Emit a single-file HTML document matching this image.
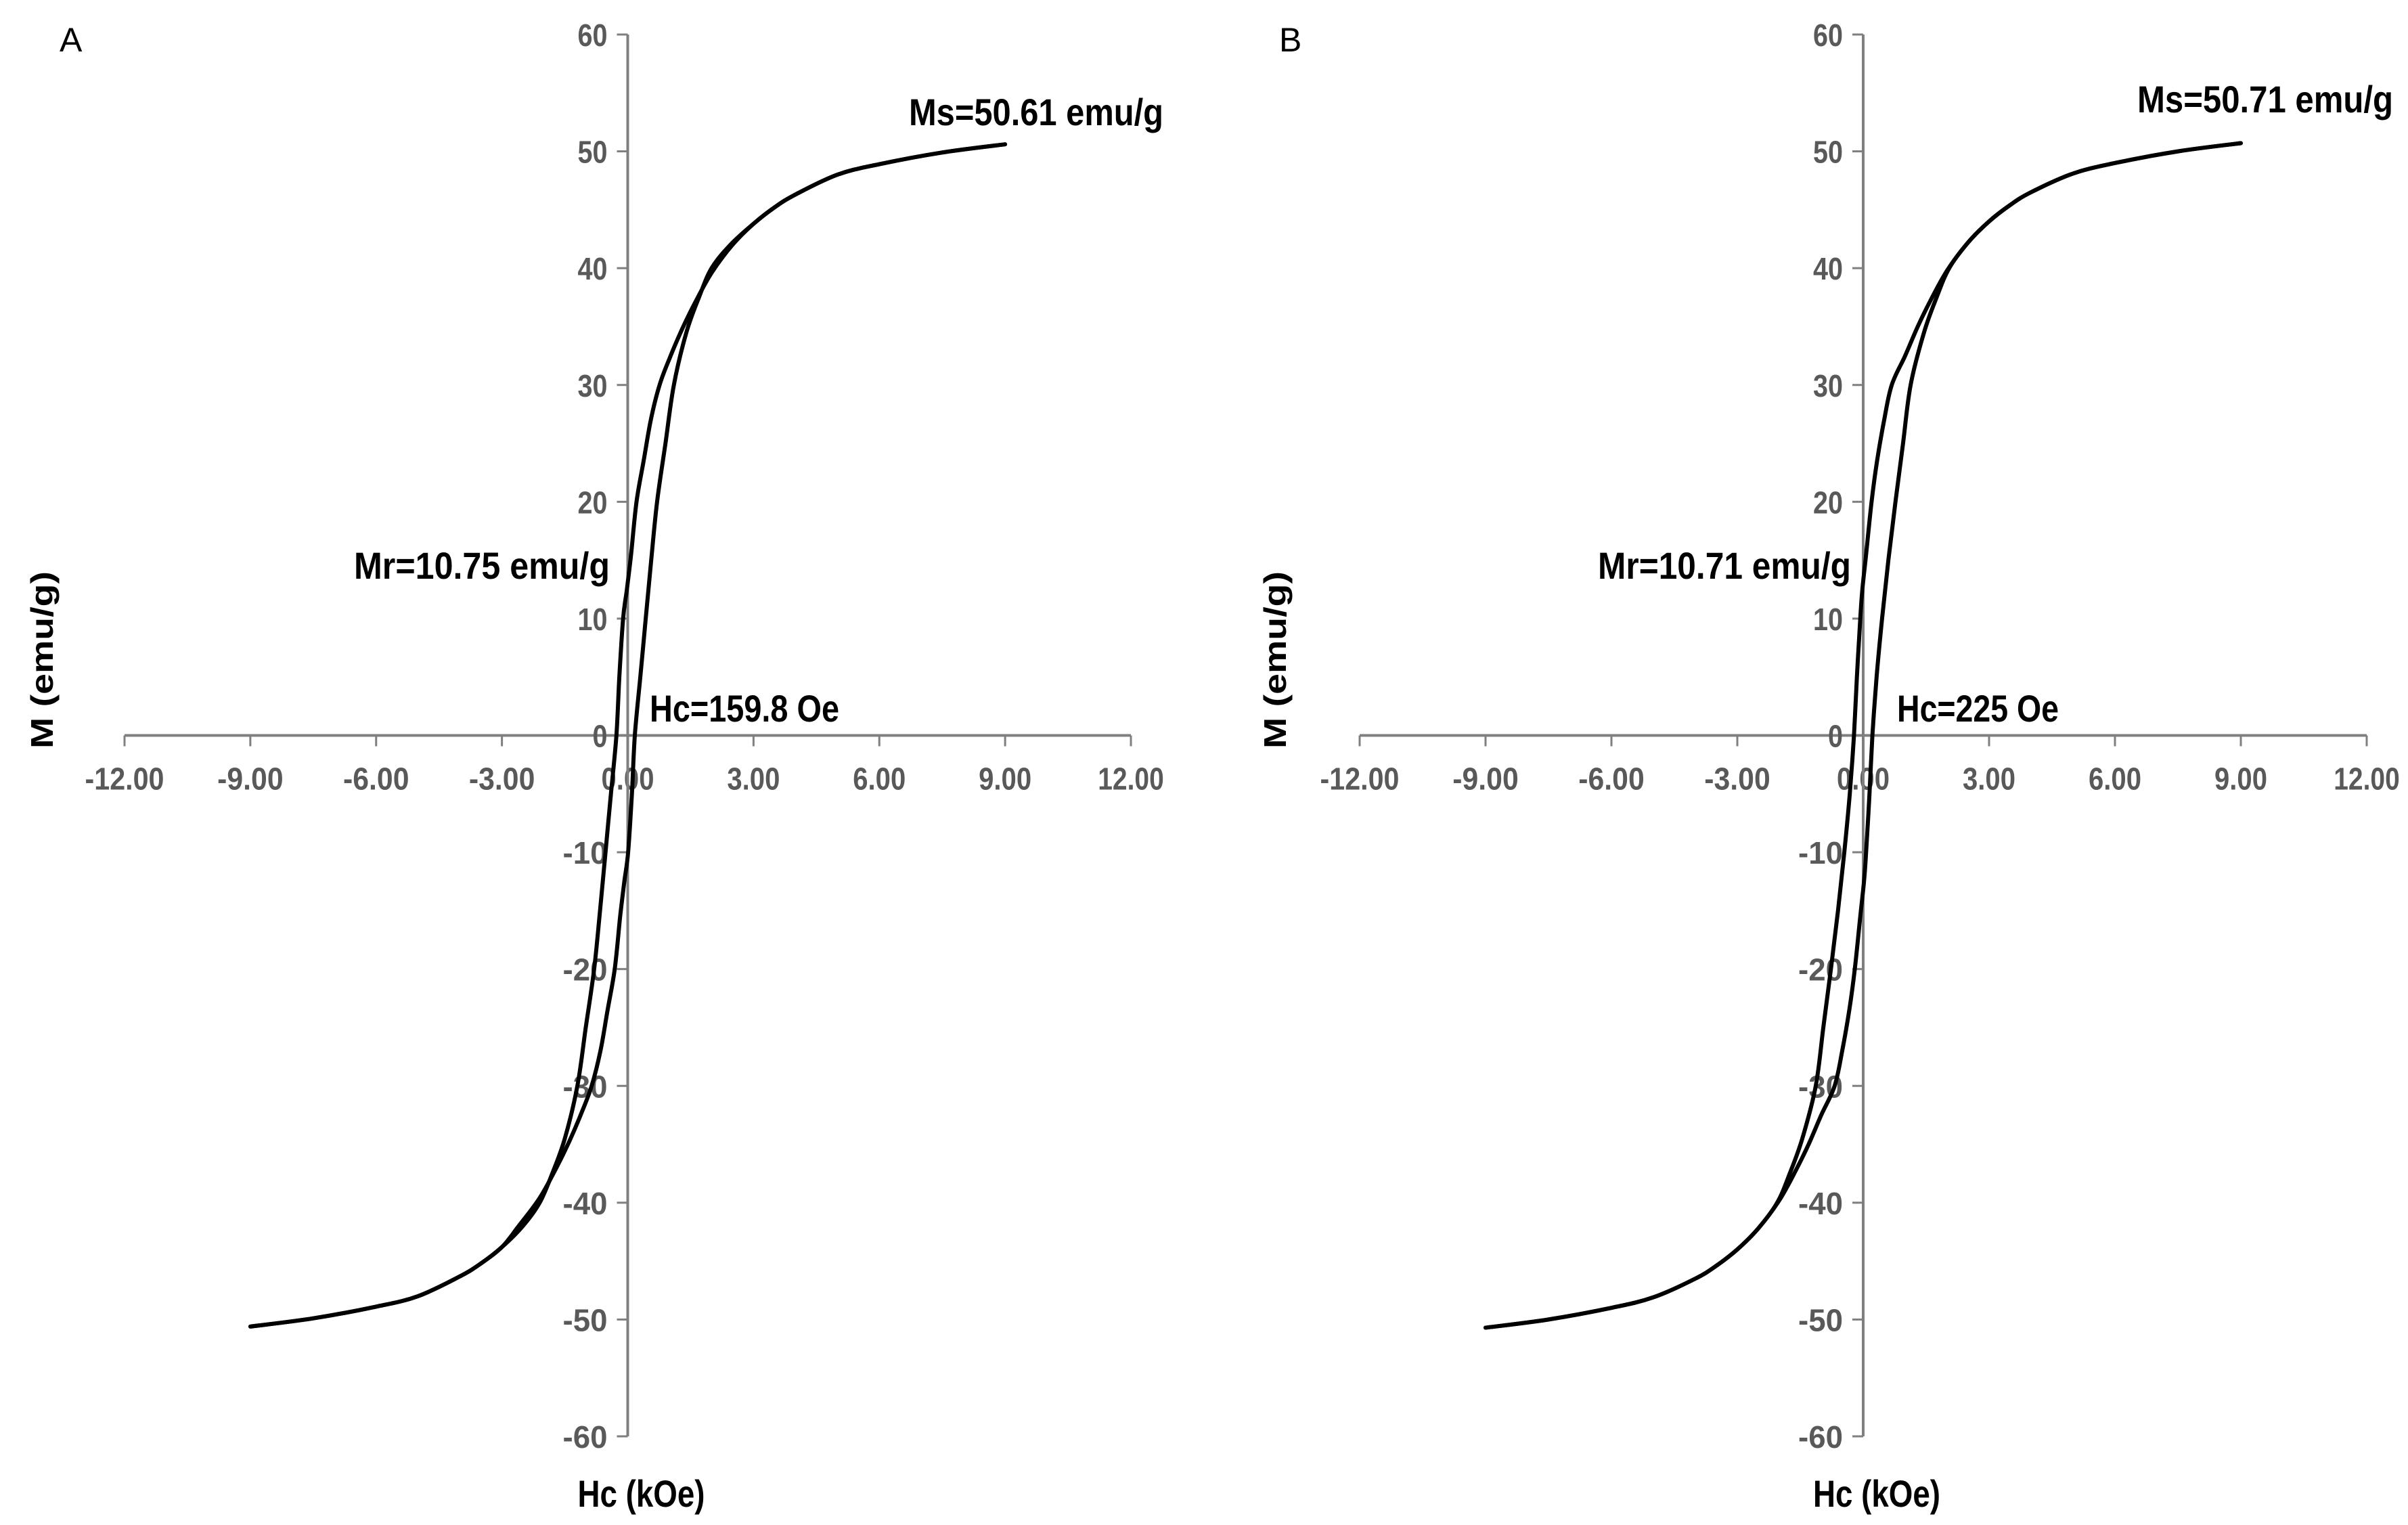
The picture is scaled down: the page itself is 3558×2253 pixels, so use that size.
<!DOCTYPE html>
<html><head><meta charset="utf-8">
<style>
html,body{margin:0;padding:0;background:#fff;}
svg{display:block;}
.tick{font-family:"Liberation Sans",sans-serif;font-size:46px;font-weight:bold;fill:#595959;}
.ann{font-family:"Liberation Sans",sans-serif;font-size:56px;font-weight:bold;fill:#000;}
.ttl{font-family:"Liberation Sans",sans-serif;font-size:46px;font-weight:bold;fill:#000;}
.lbl{font-family:"Liberation Sans",sans-serif;font-size:50px;fill:#000;}
</style></head>
<body>
<svg id="chart" width="3558" height="2253" viewBox="0 0 3558 2253" xmlns="http://www.w3.org/2000/svg"></svg>
<script>
// X ticks (kOe) and Y ticks (emu/g)
const xTicks = [-12, -9, -6, -3, 0, 3, 6, 9, 12];
const xTickLabels = ["-12.00","-9.00","-6.00","-3.00","0.00","3.00","6.00","9.00","12.00"];
const yTicks = [60, 50, 40, 30, 20, 10, 0, -10, -20, -30, -40, -50, -60];
// Panel A: descending branch
const aDescH = [9, 7.5, 6, 5, 4, 3.5, 3, 2.5, 2.0, 1.6, 1.3, 1.0, 0.76, 0.55, 0.38, 0.21, 0.08, -0.02, -0.11, -0.2, -0.27, -0.4, -0.53, -0.66, -0.8, -1.0, -1.2, -1.5, -1.8, -2.1, -2.5, -3, -3.5, -4, -5, -6, -7.5, -9];
const aDescM = [50.6, 49.9, 48.9, 48, 46.3, 45.2, 43.8, 42, 39.6, 37, 34.8, 32.3, 30, 27, 23.5, 20, 15.5, 12.5, 10, 5, 0, -5, -10, -15, -20, -25, -30, -34.5, -37.5, -40, -42, -43.8, -45.2, -46.3, -48, -48.9, -49.9, -50.6];
// Panel A: ascending branch
const aAscH = [-9, -7.5, -6, -5, -4, -3.5, -3, -2.6, -2.1, -1.7, -1.4, -1.1, -0.86, -0.65, -0.48, -0.31, -0.18, -0.08, 0.01, 0.1, 0.17, 0.3, 0.43, 0.56, 0.7, 0.9, 1.1, 1.4, 1.7, 2.0, 2.45, 3, 3.5, 4, 5, 6, 7.5, 9];
const aAscM = [-50.6, -49.9, -48.9, -48, -46.3, -45.2, -43.8, -42, -39.6, -37, -34.8, -32.3, -30, -27, -23.5, -20, -15.5, -12.5, -10, -5, 0, 5, 10, 15, 20, 25, 30, 34.5, 37.5, 40, 42, 43.8, 45.2, 46.3, 48, 48.9, 49.9, 50.6];
// Panel B: descending branch
const bDescH = [9, 7.5, 6, 5, 4, 3.5, 3, 2.5, 2.0, 1.6, 1.3, 1.0, 0.68, 0.5, 0.33, 0.2, 0.07, -0.02, -0.07, -0.15, -0.22, -0.32, -0.45, -0.6, -0.77, -0.95, -1.13, -1.45, -1.75, -2.05, -2.5, -3, -3.5, -4, -5, -6, -7.5, -9];
const bDescM = [50.7, 50, 49, 48.1, 46.5, 45.4, 44, 42.2, 39.8, 37.2, 35, 32.5, 30, 27, 23.5, 20, 15.5, 12.5, 10, 5, 0, -5, -10, -15, -20, -25, -30, -34.5, -37.5, -40, -42.2, -44, -45.4, -46.5, -48.1, -49, -50, -50.7];
// Panel B: ascending branch
const bAscH = [-9, -7.5, -6, -5, -4, -3.5, -3, -2.5, -2.0, -1.6, -1.3, -1.0, -0.68, -0.5, -0.33, -0.2, -0.07, 0.02, 0.07, 0.15, 0.22, 0.32, 0.45, 0.6, 0.77, 0.95, 1.13, 1.45, 1.75, 2.05, 2.5, 3, 3.5, 4, 5, 6, 7.5, 9];
const bAscM = [-50.7, -50, -49, -48.1, -46.5, -45.4, -44, -42.2, -39.8, -37.2, -35, -32.5, -30, -27, -23.5, -20, -15.5, -12.5, -10, -5, 0, 5, 10, 15, 20, 25, 30, 34.5, 37.5, 40, 42.2, 44, 45.4, 46.5, 48.1, 49, 50, 50.7];

const NS = "http://www.w3.org/2000/svg";
const svg = document.getElementById("chart");
function mk(tag, attrs, parent) {
  const e = document.createElementNS(NS, tag);
  for (const k in attrs) e.setAttribute(k, attrs[k]);
  (parent || svg).appendChild(e);
  return e;
}
function smoothPath(pts) {
  let d = "M" + pts[0][0].toFixed(1) + "," + pts[0][1].toFixed(1);
  for (let i = 0; i < pts.length - 1; i++) {
    const p0 = pts[i - 1] || pts[i], p1 = pts[i], p2 = pts[i + 1], p3 = pts[i + 2] || p2;
    const c1x = p1[0] + (p2[0] - p0[0]) / 6, c1y = p1[1] + (p2[1] - p0[1]) / 6;
    const c2x = p2[0] - (p3[0] - p1[0]) / 6, c2y = p2[1] - (p3[1] - p1[1]) / 6;
    d += " C" + c1x.toFixed(1) + "," + c1y.toFixed(1) + " " + c2x.toFixed(1) + "," + c2y.toFixed(1) + " " + p2[0].toFixed(1) + "," + p2[1].toFixed(1);
  }
  return d;
}

function panel(cfg) {
  const g = mk("g", {});
  
  
  const xs = v => cfg.x0 + (v - (-12)) / 24 * (cfg.x1 - cfg.x0);
  const ys = v => cfg.yTop + (60 - v) / 120 * (cfg.yBot - cfg.yTop);
  const x0 = xs(0), y0 = ys(0);
  const xa = mk("line", {x1: xs(-12), x2: xs(12), y1: y0, y2: y0, stroke: "#7f7f7f", "stroke-width": 4}, g);
  
  
  xTicks.forEach((t, i) => {
    const tk = mk("line", {x1: xs(t), x2: xs(t), y1: y0, y2: y0 + 16, stroke: "#7f7f7f", "stroke-width": 3}, g);
    
    
    const s = xTickLabels[i];
    const tl = mk("text", {x: xs(t), y: y0 + 80, "text-anchor": "middle", class: "tick", textLength: s.length * 19.5, lengthAdjust: "spacingAndGlyphs"}, g);
    
    
    tl.textContent = s;
  });
  const ya = mk("line", {x1: x0, x2: x0, y1: ys(60), y2: ys(-60), stroke: "#7f7f7f", "stroke-width": 4}, g);
  
  
  yTicks.forEach(t => {
    const tk = mk("line", {x1: x0 - 16, x2: x0, y1: ys(t), y2: ys(t), stroke: "#7f7f7f", "stroke-width": 3}, g);
    
    
    const s = String(t);
    const tl = mk("text", {x: x0 - 30, y: ys(t) + 17, "text-anchor": "end", class: "tick", textLength: s.length * 22, lengthAdjust: "spacingAndGlyphs"}, g);
    
    
    tl.textContent = s;
  });
  [[cfg.descH, cfg.descM, 'descending-branch'], [cfg.ascH, cfg.ascM, 'ascending-branch']].forEach(s => {
    const pts = s[0].map((h, i) => [xs(h), ys(s[1][i])]);
    const p = mk("path", {d: smoothPath(pts), fill: "none", stroke: "#000", "stroke-width": 6, "stroke-linejoin": "round", "stroke-linecap": "round"}, g);
    
    
  });
  cfg.anns.forEach(a => {
    const t = mk("text", {x: a[1], y: a[2], class: "ann", textLength: a[3], lengthAdjust: "spacingAndGlyphs"}, g);
    
    
    t.textContent = a[0];
  });
  const L = mk("text", {x: cfg.letterX, y: 76, class: "lbl"}, g);
  
  
  L.textContent = cfg.letter;
  const yt = mk("text", {x: 0, y: 0, class: "ttl", "text-anchor": "middle", transform: "translate(" + (cfg.ytX) + ",975) rotate(-90)", textLength: 262, lengthAdjust: "spacingAndGlyphs"}, g);
  
  
  yt.textContent = "M (emu/g)";
  const xt = mk("text", {x: x0 + 20, y: 2226, class: "ann", "text-anchor": "middle", textLength: 188, lengthAdjust: "spacingAndGlyphs"}, g);
  
  
  xt.textContent = "Hc (kOe)";
}

panel({id: "a", x0: 184, x1: 1671, yTop: 51, yBot: 2122, letter: "A", letterX: 88, ytX: 78,
  descH: aDescH, descM: aDescM, ascH: aAscH, ascM: aAscM,
  anns: [["Ms=50.61 emu/g", 1343, 185, 376, "ms-annotation"], ["Mr=10.75 emu/g", 523, 855, 378, "mr-annotation"], ["Hc=159.8 Oe", 960, 1066, 280, "hc-annotation"]]});
panel({id: "b", x0: 2009, x1: 3497, yTop: 51, yBot: 2122, letter: "B", letterX: 1890, ytX: 1900,
  descH: bDescH, descM: bDescM, ascH: bAscH, ascM: bAscM,
  anns: [["Ms=50.71 emu/g", 3158, 166, 378, "ms-annotation"], ["Mr=10.71 emu/g", 2361, 855, 374, "mr-annotation"], ["Hc=225 Oe", 2803, 1066, 239, "hc-annotation"]]});
</script>
</body></html>
